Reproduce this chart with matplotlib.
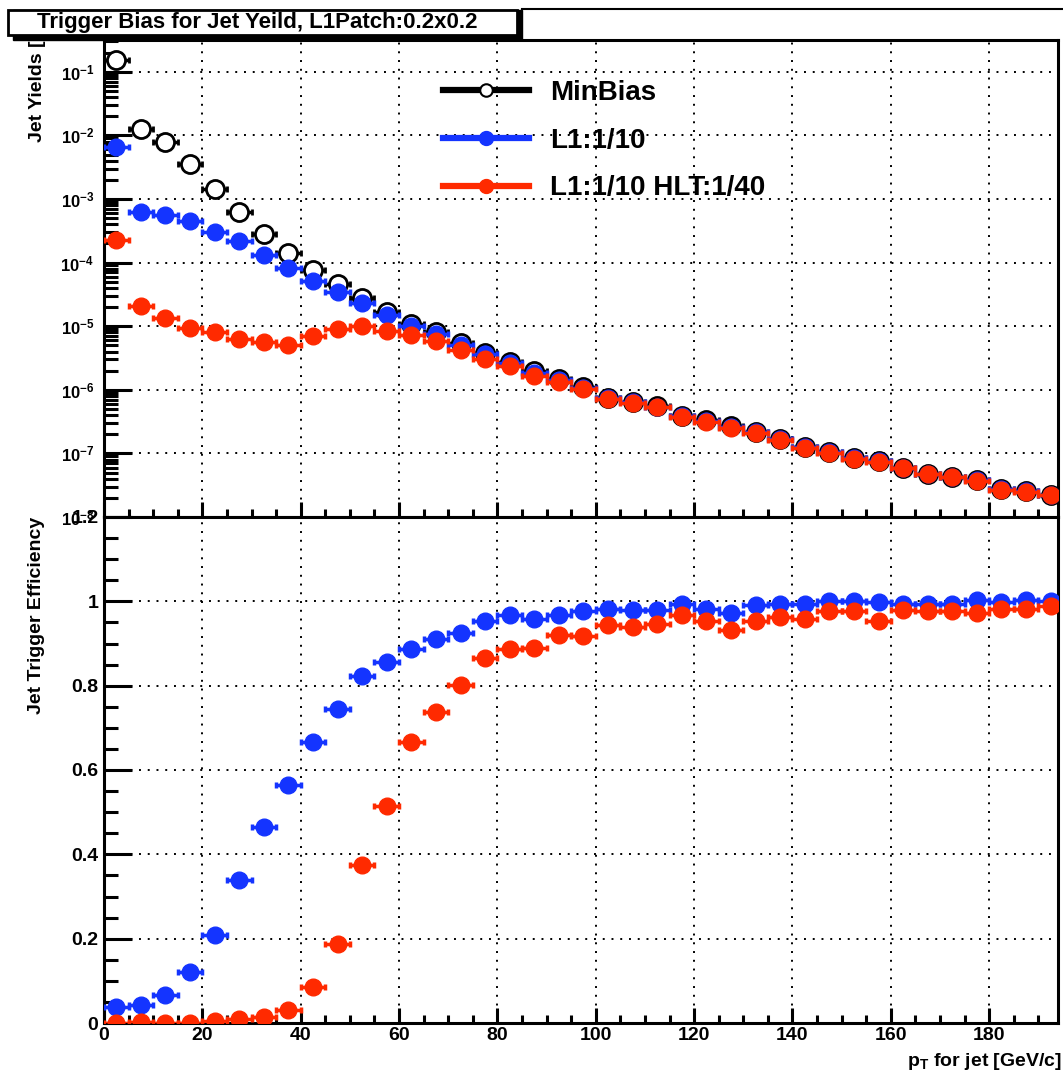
import numpy as np
import matplotlib
matplotlib.use('Agg')
import matplotlib.pyplot as plt
from matplotlib.ticker import MultipleLocator, LogLocator, FuncFormatter, NullFormatter
from matplotlib.lines import Line2D
from matplotlib.patches import Rectangle

plt.rcParams['font.family'] = ['Liberation Sans', 'DejaVu Sans']
plt.rcParams['font.weight'] = 'bold'
plt.rcParams['mathtext.fontset'] = 'custom'
plt.rcParams['mathtext.rm'] = 'Liberation Sans:bold'
plt.rcParams['mathtext.bf'] = 'Liberation Sans:bold'
plt.rcParams['mathtext.it'] = 'Liberation Sans:bold:italic'

# bin centres, 5 GeV/c wide
pt = np.arange(2.5, 195, 5.0)
half_width = 2.5

yield_minbias = [0.152, 0.0126, 0.0080, 0.00355, 0.00146, 6.2e-4, 2.8e-4, 1.4e-4,
                 7.7e-5, 4.6e-5, 2.75e-5, 1.7e-5, 1.1e-5, 8.2e-6, 5.4e-6, 3.8e-6,
                 2.7e-6, 1.95e-6, 1.5e-6, 1.1e-6, 7.5e-7, 6.5e-7, 5.5e-7, 3.9e-7,
                 3.3e-7, 2.7e-7, 2.2e-7, 1.7e-7, 1.25e-7, 1.05e-7, 8.5e-8, 7.7e-8,
                 5.9e-8, 4.8e-8, 4.3e-8, 3.8e-8, 2.8e-8, 2.55e-8, 2.2e-8]
yield_l1 = [0.0065, 6.2e-4, 5.6e-4, 4.5e-4, 3.0e-4, 2.15e-4, 1.33e-4, 8.1e-5,
            5.1e-5, 3.4e-5, 2.3e-5, 1.5e-5, 1.0e-5, 7.5e-6, 5.0e-6, 3.6e-6,
            2.6e-6, 1.87e-6, 1.45e-6, 1.08e-6, 7.4e-7, 6.4e-7, 5.4e-7, 3.9e-7,
            3.25e-7, 2.6e-7, 2.2e-7, 1.7e-7, 1.25e-7, 1.05e-7, 8.5e-8, 7.7e-8,
            5.9e-8, 4.8e-8, 4.3e-8, 3.8e-8, 2.8e-8, 2.55e-8, 2.2e-8]
yield_hlt = [2.3e-4, 2.1e-5, 1.35e-5, 9.3e-6, 8.0e-6, 6.3e-6, 5.6e-6, 5.1e-6,
             6.9e-6, 8.9e-6, 1.0e-5, 8.5e-6, 7.4e-6, 5.9e-6, 4.2e-6, 3.1e-6,
             2.4e-6, 1.65e-6, 1.35e-6, 1.02e-6, 7.1e-7, 6.2e-7, 5.3e-7, 3.8e-7,
             3.15e-7, 2.5e-7, 2.1e-7, 1.63e-7, 1.2e-7, 1.02e-7, 8.3e-8, 7.3e-8,
             5.8e-8, 4.7e-8, 4.2e-8, 3.7e-8, 2.7e-8, 2.5e-8, 2.2e-8]

eff_l1 = [0.038, 0.043, 0.067, 0.121, 0.208, 0.338, 0.466, 0.564,
          0.666, 0.744, 0.822, 0.856, 0.886, 0.910, 0.925, 0.953,
          0.968, 0.959, 0.968, 0.976, 0.982, 0.980, 0.979, 0.994,
          0.983, 0.972, 0.992, 0.994, 0.994, 1.000, 1.000, 0.998,
          0.994, 0.994, 0.994, 1.002, 0.998, 1.002, 1.000]
eff_hlt = [0.001, 0.002, 0.001, 0.001, 0.005, 0.009, 0.014, 0.032,
           0.085, 0.188, 0.374, 0.515, 0.666, 0.738, 0.801, 0.866,
           0.886, 0.889, 0.919, 0.917, 0.945, 0.939, 0.947, 0.968,
           0.953, 0.933, 0.953, 0.964, 0.957, 0.976, 0.976, 0.953,
           0.979, 0.976, 0.976, 0.972, 0.982, 0.982, 0.988]

labels = ['MinBias', 'L1:1/10', 'L1:1/10 HLT:1/40']
blue = '#1434ff'
red = '#ff2a00'

W, H = 1063, 1074
fig = plt.figure(figsize=(W/100, H/100), dpi=100)
left = 104/W
width = (1058-104)/W
ax1 = fig.add_axes([left, 1-517/H, width, (517-40)/H])
ax2 = fig.add_axes([left, 1-1023/H, width, (1023-517)/H])

# ---- top: yields
ax1.errorbar(pt, yield_minbias, xerr=half_width, fmt='o', color='black', mfc='white',
             mec='black', mew=2, ms=13, elinewidth=2.5, capsize=2, capthick=2.5, zorder=3)
ax1.errorbar(pt, yield_l1, xerr=half_width, fmt='o', color=blue, ms=12,
             elinewidth=2.5, capsize=2, capthick=2.5, zorder=4)
ax1.errorbar(pt, yield_hlt, xerr=half_width, fmt='o', color=red, ms=12,
             elinewidth=2.5, capsize=2, capthick=2.5, zorder=5)
ax1.set_yscale('log')
ax1.set_ylim(1e-8, 0.316)
ax1.yaxis.set_major_locator(LogLocator(base=10, numticks=20))
ax1.yaxis.set_minor_locator(LogLocator(base=10, subs=np.arange(2, 10), numticks=20))
ax1.yaxis.set_minor_formatter(NullFormatter())
ax1.yaxis.set_major_formatter(FuncFormatter(lambda v, p: r'$\mathbf{10^{%d}}$' % round(np.log10(v))))
ax1.tick_params(axis='y', which='major', labelsize=12, pad=7)
ax1.tick_params(axis='x', labelbottom=False)

# ---- bottom: efficiency
ax2.errorbar(pt, eff_l1, xerr=half_width, fmt='o', color=blue, ms=12,
             elinewidth=2.5, capsize=2, capthick=2.5, zorder=4)
ax2.errorbar(pt, eff_hlt, xerr=half_width, fmt='o', color=red, ms=12,
             elinewidth=2.5, capsize=2, capthick=2.5, zorder=5)
ax2.set_ylim(0, 1.2)
ax2.yaxis.set_major_locator(MultipleLocator(0.2))
ax2.yaxis.set_minor_locator(MultipleLocator(0.05))
ax2.yaxis.set_major_formatter(FuncFormatter(lambda v, p: '%g' % round(v, 2)))
ax2.tick_params(axis='y', which='major', labelsize=14, pad=4)
ax2.tick_params(axis='x', which='major', labelsize=14, pad=3)

for ax in (ax1, ax2):
    ax.set_xlim(0, 194)
    ax.xaxis.set_major_locator(MultipleLocator(20))
    ax.xaxis.set_minor_locator(MultipleLocator(5))
    ax.tick_params(which='both', direction='in', top=False, right=False, width=2.2)
    ax.tick_params(axis='x', which='major', length=11)
    ax.tick_params(axis='x', which='minor', length=6)
    ax.tick_params(axis='y', which='major', length=20)
    ax.tick_params(axis='y', which='minor', length=10)
    ax.grid(True, which='major', color='black', linestyle=(0, (1, 3.5)), linewidth=1.4)
    for s in ax.spines.values():
        s.set_linewidth(2.2)
    ax.set_axisbelow(False)

ax2.xaxis.set_major_formatter(FuncFormatter(lambda v, p: '%d' % v))

# legend
handles = [Line2D([], [], color='black', lw=4.5, marker='o', ms=9, mfc='white', mec='black', mew=1.5),
           Line2D([], [], color=blue, lw=4.5, marker='o', ms=10),
           Line2D([], [], color=red, lw=4.5, marker='o', ms=10)]
ax1.legend(handles, labels, loc='upper left', bbox_to_anchor=((443-104)/954, (517-80)/477),
           frameon=False, fontsize=20, handlelength=3.1, handletextpad=0.75,
           labelspacing=0.78, borderpad=0, borderaxespad=0)

# axis titles
fig.text(37/W, 1-142/H, 'Jet Yields [', rotation=90, ha='center', va='bottom', fontsize=14, zorder=1)
fig.text(37/W, 1-517/H, 'Jet Trigger Efficiency', rotation=90, ha='center', va='top', fontsize=14)
fig.text(1062/W, 1-1061/H, r'p$_{\mathbf{T}}$ for jet [GeV/c]', ha='right', va='center', fontsize=14)

# title box with shadow
fig.patches.append(Rectangle((13/W, 1-40/H), 509/W, 30/H, transform=fig.transFigure,
                             facecolor='black', edgecolor='black', zorder=10))
fig.patches.append(Rectangle((8/W, 1-35/H), 509/W, 25/H, transform=fig.transFigure,
                             facecolor='white', edgecolor='black', lw=2, zorder=11))
fig.lines.append(Line2D([522/W, 1.0], [1-9/H, 1-9/H], transform=fig.transFigure, color='black', lw=1.5))
fig.text(257/W, 1-22.5/H, 'Trigger Bias for Jet Yeild, L1Patch:0.2x0.2', ha='center', va='center',
         fontsize=16, zorder=12)

fig.savefig('out.png', dpi=100)
